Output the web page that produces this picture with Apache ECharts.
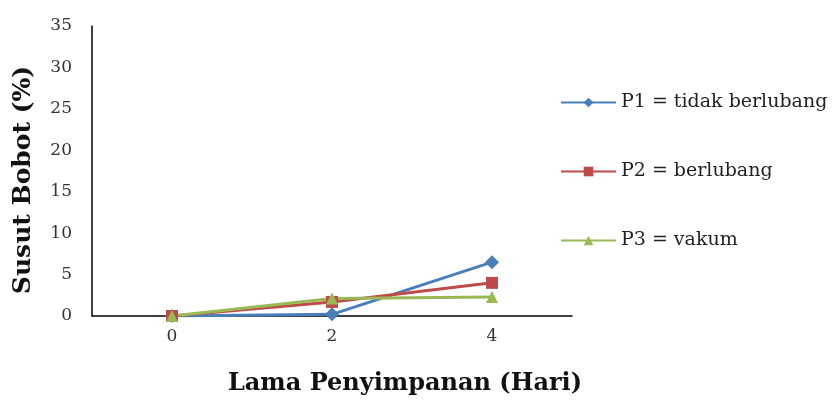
<!DOCTYPE html>
<html><head><meta charset="utf-8">
<script src="https://cdn.jsdelivr.net/npm/echarts@6/dist/echarts.min.js"></script>
<style>html,body{margin:0;padding:0;background:#fff}#c{width:832px;height:403px}</style>
</head><body><div id="c"></div>
<script>
var categories = ['0', '2', '4'];
var p1 = [0, 0.2, 6.5];
var p2 = [0, 1.7, 4.0];
var p3 = [0, 2.1, 2.3];
var seriesNames = ['P1 = tidak berlubang', 'P2 = berlubang', 'P3 = vakum'];
var yTicks = [0, 5, 10, 15, 20, 25, 30, 35];

var serif = 'DejaVu Serif';
var chart = echarts.init(document.getElementById('c'));
function mk(name, data, color, symbol, size) {
  return {name: name, type: 'line', data: data, symbol: symbol, symbolSize: size,
    lineStyle: {color: color, width: 3}, itemStyle: {color: color}, z: 3};
}
chart.setOption({
  animation: false,
  grid: {left: 92, right: 260, top: 26, bottom: 87},
  legend: {
    orient: 'vertical', left: 555, top: 88, itemGap: 50,
    itemWidth: 55, itemHeight: 12,
    textStyle: {fontFamily: serif, fontSize: 19, color: '#222'},
    data: seriesNames
  },
  xAxis: {
    type: 'category', data: categories, boundaryGap: true,
    axisLine: {lineStyle: {color: '#000', width: 1.5}},
    axisTick: {show: false},
    axisLabel: {fontFamily: serif, fontSize: 17, color: '#333', margin: 12},
    name: 'Lama Penyimpanan (Hari)', nameLocation: 'middle', nameGap: 56,
    nameTextStyle: {fontFamily: serif, fontSize: 24, fontWeight: 'bold', color: '#111',
      padding: [0, 0, 0, 146]}
  },
  yAxis: {
    type: 'value', min: 0, max: 35, interval: 5,
    axisLine: {show: true, lineStyle: {color: '#000', width: 1.5}},
    axisTick: {show: false},
    splitLine: {show: false},
    axisLabel: {fontFamily: serif, fontSize: 17, color: '#333', margin: 20,
      formatter: function (v) { return yTicks.indexOf(v) >= 0 ? String(v) : ''; }},
    name: 'Susut Bobot (%)', nameLocation: 'middle', nameGap: 56, nameRotate: 90,
    nameTextStyle: {fontFamily: serif, fontSize: 25, fontWeight: 'bold', color: '#111',
      padding: [0, 18, 0, 0]}
  },
  series: [
    mk(seriesNames[0], p1, '#4A7EBB', 'diamond', 14),
    mk(seriesNames[1], p2, '#BE4B48', 'rect', 12),
    mk(seriesNames[2], p3, '#98B954', 'triangle', 12)
  ]
});
</script></body></html>
